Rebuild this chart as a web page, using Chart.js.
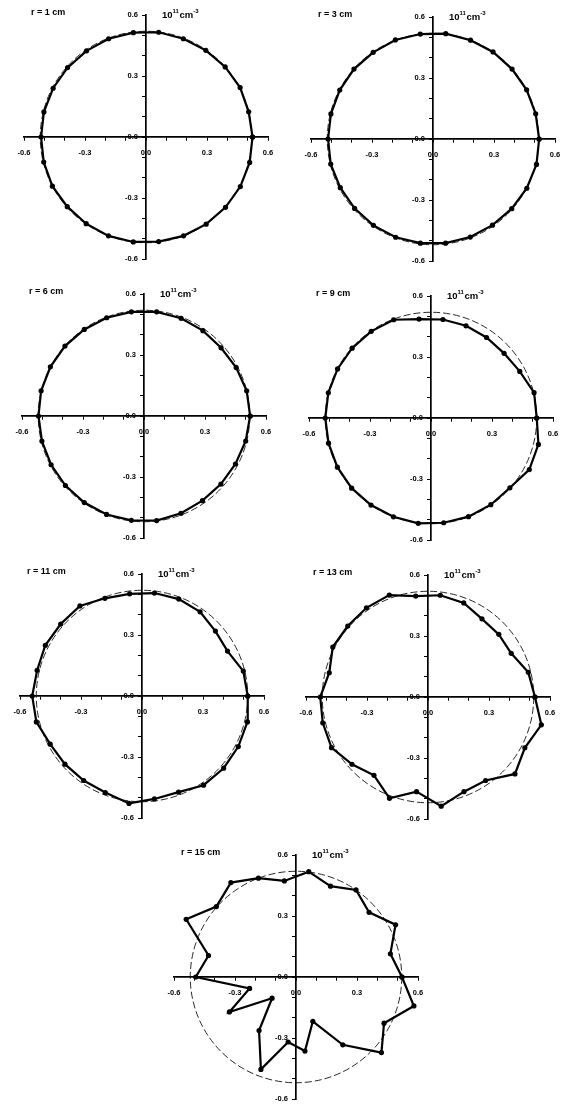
<!DOCTYPE html>
<html>
<head>
<meta charset="utf-8">
<script src="https://cdn.jsdelivr.net/npm/chart.js@4.4.1/dist/chart.umd.min.js"></script>
<style>
  html, body { margin: 0; padding: 0; background: #fff; }
  #page { position: relative; width: 564px; height: 1112px; overflow: hidden; }
  #page canvas { position: absolute; }
</style>
</head>
<body>
<div id="page"></div>
<script>
// measurement angles (degrees), 26 positions round the circle
const anglesDeg = [0, 13.8, 27.7, 41.5, 55.4, 69.2, 83.1, 96.9, 110.8, 124.6, 138.5, 152.3, 166.2,
                   180, 193.8, 207.7, 221.5, 235.4, 249.2, 263.1, 276.9, 290.8, 304.6, 318.5, 332.3, 346.2];

// density (10^11 cm^-3) at each angle, one list per radius
const r1cm  = [0.524, 0.52, 0.523, 0.52, 0.518, 0.517, 0.519, 0.517, 0.517, 0.515, 0.515, 0.516, 0.517,
               0.516, 0.518, 0.52, 0.517, 0.518, 0.52, 0.52, 0.518, 0.52, 0.521, 0.522, 0.524, 0.525];
const r3cm  = [0.522, 0.52, 0.52, 0.519, 0.52, 0.52, 0.522, 0.52, 0.521, 0.518, 0.519, 0.518, 0.517,
               0.516, 0.518, 0.515, 0.515, 0.516, 0.517, 0.516, 0.516, 0.516, 0.515, 0.517, 0.521, 0.524];
const r6cm  = [0.522, 0.52, 0.512, 0.506, 0.51, 0.514, 0.516, 0.516, 0.517, 0.517, 0.519, 0.52, 0.521,
               0.519, 0.517, 0.516, 0.516, 0.517, 0.518, 0.517, 0.518, 0.512, 0.506, 0.505, 0.508, 0.515];
const r9cm  = [0.52, 0.522, 0.493, 0.48, 0.481, 0.485, 0.488, 0.49, 0.517, 0.518, 0.518, 0.519, 0.52,
               0.52, 0.519, 0.52, 0.521, 0.52, 0.52, 0.522, 0.519, 0.519, 0.518, 0.518, 0.546, 0.544];
const r11cm = [0.52, 0.513, 0.475, 0.482, 0.503, 0.51, 0.51, 0.506, 0.514, 0.538, 0.534, 0.537, 0.531,
               0.54, 0.535, 0.51, 0.506, 0.505, 0.508, 0.532, 0.51, 0.506, 0.533, 0.536, 0.535, 0.534];
const r13cm = [0.526, 0.508, 0.462, 0.465, 0.467, 0.495, 0.504, 0.5, 0.536, 0.533, 0.527, 0.529, 0.5,
               0.53, 0.533, 0.536, 0.499, 0.468, 0.533, 0.469, 0.541, 0.498, 0.499, 0.571, 0.538, 0.574];
const r15cm = [0.521, 0.478, 0.553, 0.48, 0.52, 0.478, 0.522, 0.476, 0.52, 0.564, 0.523, 0.61, 0.443,
               0.493, 0.235, 0.37, 0.157, 0.32, 0.486, 0.322, 0.367, 0.233, 0.405, 0.561, 0.489, 0.597];

const panelTitles = ['r = 1 cm', 'r = 3 cm', 'r = 6 cm', 'r = 9 cm', 'r = 11 cm', 'r = 13 cm', 'r = 15 cm'];
const panelSeries = [r1cm, r3cm, r6cm, r9cm, r11cm, r13cm, r15cm];
const refRadius = 0.52;   // dashed reference circle

const tickValues = [-0.6, -0.3, 0, 0.3, 0.6];
const tickLabels = ['-0.6', '-0.3', '0.0', '0.3', '0.6'];

// where each panel's origin sits on the page
const panelOrigins = [[146, 137], [433, 139], [144, 416], [431, 418], [142, 696], [428, 697], [296, 977]];

Chart.defaults.font.family = '"Liberation Sans", Arial, sans-serif';
Chart.defaults.color = '#000';

const W = 282, H = 280;

function tickText(v) {
  for (let i = 0; i < tickValues.length; i++) {
    if (Math.abs(v - tickValues[i]) < 1e-6) return tickLabels[i];
  }
  return '';
}

const panelDecor = {
  id: 'panelDecor',
  beforeDraw(chart) {
    // y labels of a centred axis sit flush on the line; push them left a bit
    const items = chart.scales.y.getLabelItems();
    if (!items._moved) {
      items.forEach(it => { it.options.translation[0] -= 8; });
      items._moved = true;
    }
  },
  beforeDatasetsDraw(chart, args, opts) {
    const {ctx, scales: {x, y}} = chart;
    const cx = x.getPixelForValue(0), cy = y.getPixelForValue(0);
    const rx = x.getPixelForValue(opts.refR) - cx;
    const ry = cy - y.getPixelForValue(opts.refR);
    ctx.save();
    ctx.setLineDash([7, 3]);
    ctx.lineWidth = 0.9;
    ctx.strokeStyle = '#111';
    ctx.beginPath();
    ctx.ellipse(cx, cy, rx, ry, 0, 0, Math.PI * 2);
    ctx.stroke();
    ctx.restore();
  },
  afterDraw(chart, args, opts) {
    const {ctx, scales: {x, y}} = chart;
    const ox = x.getPixelForValue(0), top = y.getPixelForValue(0.6);
    ctx.save();
    ctx.fillStyle = '#000';
    ctx.textBaseline = 'middle';
    ctx.font = 'bold 9px "Liberation Sans", Arial, sans-serif';
    ctx.fillText(opts.title, ox - 115, top - 2);
    // unit label 10^11 cm^-3
    let ux = ox + 16;
    ctx.font = 'bold 9.5px "Liberation Sans", Arial, sans-serif';
    ctx.fillText('10', ux, top);
    ux += ctx.measureText('10').width;
    ctx.font = 'bold 6px "Liberation Sans", Arial, sans-serif';
    ctx.fillText('11', ux, top - 4);
    ux += ctx.measureText('11').width + 0.5;
    ctx.font = 'bold 9.5px "Liberation Sans", Arial, sans-serif';
    ctx.fillText('cm', ux, top);
    ux += ctx.measureText('cm').width;
    ctx.font = 'bold 6px "Liberation Sans", Arial, sans-serif';
    ctx.fillText('-3', ux, top - 4);
    ctx.restore();
  }
};

function axisOpts(posObj) {
  return {
    type: 'linear',
    min: -0.6,
    max: 0.6,
    position: posObj,
    ticks: {
      stepSize: 0.1,
      autoSkip: false,
      maxRotation: 0,
      padding: 8,
      font: {size: 7.5, weight: 'bold'},
      callback: (v) => tickText(v)
    },
    grid: {drawOnChartArea: false, tickLength: 3, color: '#000', lineWidth: 1},
    border: {color: '#000', width: 1.7}
  };
}

const page = document.getElementById('page');

panelSeries.forEach((series, i) => {
  const cv = document.createElement('canvas');
  cv.width = W; cv.height = H;
  cv.style.width = W + 'px'; cv.style.height = H + 'px';
  cv.style.left = (panelOrigins[i][0] - 141) + 'px';
  cv.style.top = (panelOrigins[i][1] - 140) + 'px';
  page.appendChild(cv);

  const pts = anglesDeg.map((a, k) => {
    const t = a * Math.PI / 180;
    return {x: series[k] * Math.cos(t), y: series[k] * Math.sin(t)};
  });
  pts.push(pts[0]); // close the loop

  new Chart(cv.getContext('2d'), {
    type: 'scatter',
    data: {
      datasets: [{
        data: pts,
        showLine: true,
        borderColor: '#000',
        borderWidth: 2.2,
        tension: 0,
        pointRadius: 2.6,
        pointBorderWidth: 0,
        pointBackgroundColor: '#000',
        clip: false
      }]
    },
    options: {
      responsive: false,
      animation: false,
      devicePixelRatio: 1,
      layout: {padding: {left: 19, right: 19, top: 18, bottom: 18}},
      scales: {
        x: axisOpts({y: 0}),
        y: axisOpts({x: 0})
      },
      plugins: {
        legend: {display: false},
        tooltip: {enabled: false},
        panelDecor: {title: panelTitles[i], refR: refRadius}
      }
    },
    plugins: [panelDecor]
  });
});
</script>
</body>
</html>
